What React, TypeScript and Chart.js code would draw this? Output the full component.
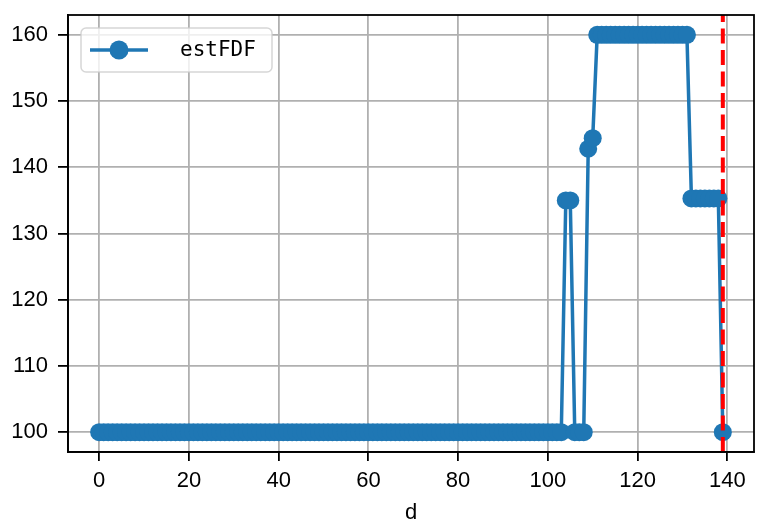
import React, { useEffect, useRef } from "react";
import { Chart, registerables } from "chart.js";

Chart.register(...registerables);

// estFDF value for each day d = 0 .. 139
const estFDF: number[] = [
  100, 100, 100, 100, 100, 100, 100, 100, 100, 100,
  100, 100, 100, 100, 100, 100, 100, 100, 100, 100,
  100, 100, 100, 100, 100, 100, 100, 100, 100, 100,
  100, 100, 100, 100, 100, 100, 100, 100, 100, 100,
  100, 100, 100, 100, 100, 100, 100, 100, 100, 100,
  100, 100, 100, 100, 100, 100, 100, 100, 100, 100,
  100, 100, 100, 100, 100, 100, 100, 100, 100, 100,
  100, 100, 100, 100, 100, 100, 100, 100, 100, 100,
  100, 100, 100, 100, 100, 100, 100, 100, 100, 100,
  100, 100, 100, 100, 100, 100, 100, 100, 100, 100,
  100, 100, 100, 100, 135, 135, 100, 100, 100, 142.8,
  144.4, 160, 160, 160, 160, 160, 160, 160, 160, 160,
  160, 160, 160, 160, 160, 160, 160, 160, 160, 160,
  160, 160, 135.3, 135.3, 135.3, 135.3, 135.3, 135.3, 135.3, 100,
];
const xTicks = [0, 20, 40, 60, 80, 100, 120, 140];
const yTicks = [100, 110, 120, 130, 140, 150, 160];
const markerDay = 139;
const xTitle = "d";
const seriesName = "estFDF";

const BLUE = "#1f77b4";
const TICK_FONT = { family: "'Liberation Sans', Arial, sans-serif", size: 22 };
const AX_W = 1.8;

export default function App() {
  const ref = useRef<HTMLCanvasElement>(null);

  useEffect(() => {
    document.body.style.margin = "0";
    const canvas = ref.current;
    if (!canvas) return;
    const points = estFDF.map((v, i) => ({ x: i, y: v }));

    const extras = {
      id: "extras",
      afterDatasetsDraw(chart: any) {
        const { ctx, chartArea: a, scales } = chart;
        const px = scales.x.getPixelForValue(markerDay);
        ctx.save();
        ctx.strokeStyle = "#ff0000";
        ctx.lineWidth = 4;
        ctx.setLineDash([15, 6.5]);
        ctx.beginPath();
        ctx.moveTo(px, a.bottom);
        ctx.lineTo(px, a.top);
        ctx.stroke();
        ctx.restore();
      },
      afterDraw(chart: any) {
        const { ctx, chartArea: a } = chart;
        ctx.save();
        ctx.strokeStyle = "#000";
        ctx.lineWidth = AX_W;
        ctx.strokeRect(a.left, a.top, a.right - a.left, a.bottom - a.top);

        // legend
        const lx = a.left + 13, ly = a.top + 13, lw = 191, lh = 44;
        ctx.beginPath();
        ctx.roundRect(lx, ly, lw, lh, 5);
        ctx.fillStyle = "rgba(255,255,255,0.8)";
        ctx.fill();
        ctx.strokeStyle = "rgba(204,204,204,0.8)";
        ctx.lineWidth = 1.5;
        ctx.stroke();
        const cy = ly + lh / 2;
        ctx.strokeStyle = BLUE;
        ctx.lineWidth = 3.5;
        ctx.beginPath();
        ctx.moveTo(lx + 9, cy);
        ctx.lineTo(lx + 67, cy);
        ctx.stroke();
        ctx.fillStyle = BLUE;
        ctx.beginPath();
        ctx.arc(lx + 38, cy, 9.5, 0, Math.PI * 2);
        ctx.fill();
        ctx.fillStyle = "#000";
        ctx.font = "21px 'DejaVu Sans Mono', 'Liberation Mono', monospace";
        ctx.textBaseline = "middle";
        ctx.textAlign = "left";
        ctx.fillText(seriesName, lx + 99, cy + 1);
        ctx.restore();
      },
    };

    const chart = new Chart(canvas, {
      type: "line",
      data: {
        datasets: [
          {
            label: seriesName,
            data: points,
            borderColor: BLUE,
            backgroundColor: BLUE,
            borderWidth: 3.5,
            pointRadius: 9,
            pointBorderWidth: 0,
            pointBackgroundColor: BLUE,
            tension: 0,
          },
        ],
      },
      options: {
        animation: false,
        responsive: false,
        devicePixelRatio: 1,
        layout: { padding: { top: 15, right: 8, left: 0, bottom: 0 } },
        plugins: { legend: { display: false }, tooltip: { enabled: false } },
        scales: {
          x: {
            type: "linear",
            min: -6.95,
            max: 145.95,
            afterBuildTicks: (s: any) => {
              s.ticks = xTicks.map((v) => ({ value: v }));
            },
            afterFit: (s: any) => {
              s.height = 71;
              s.paddingLeft = 0;
              s.paddingRight = 0;
            },
            ticks: {
              autoSkip: false,
              maxRotation: 0,
              minRotation: 0,
              color: "#000",
              font: TICK_FONT,
              padding: 7,
            },
            grid: {
              color: "#b0b0b0",
              lineWidth: 1.8,
              tickColor: "#000",
              tickLength: 9,
              tickWidth: AX_W,
            },
            border: { color: "#000", width: AX_W },
            title: {
              display: true,
              text: xTitle,
              color: "#000",
              font: { ...TICK_FONT, lineHeight: 1 },
              padding: { top: 0, bottom: -1 },
            },
          },
          y: {
            type: "linear",
            min: 97,
            max: 163,
            afterBuildTicks: (s: any) => {
              s.ticks = yTicks.map((v) => ({ value: v }));
            },
            afterFit: (s: any) => {
              s.width = 68;
              s.paddingTop = 0;
              s.paddingBottom = 0;
            },
            ticks: { color: "#000", font: TICK_FONT, padding: 10 },
            grid: {
              color: "#b0b0b0",
              lineWidth: 1.8,
              tickColor: "#000",
              tickLength: 10,
              tickWidth: AX_W,
            },
            border: { color: "#000", width: AX_W },
          },
        },
      },
      plugins: [extras],
    } as any);

    return () => chart.destroy();
  }, []);

  return <canvas ref={ref} width={763} height={523} style={{ display: "block" }} />;
}
